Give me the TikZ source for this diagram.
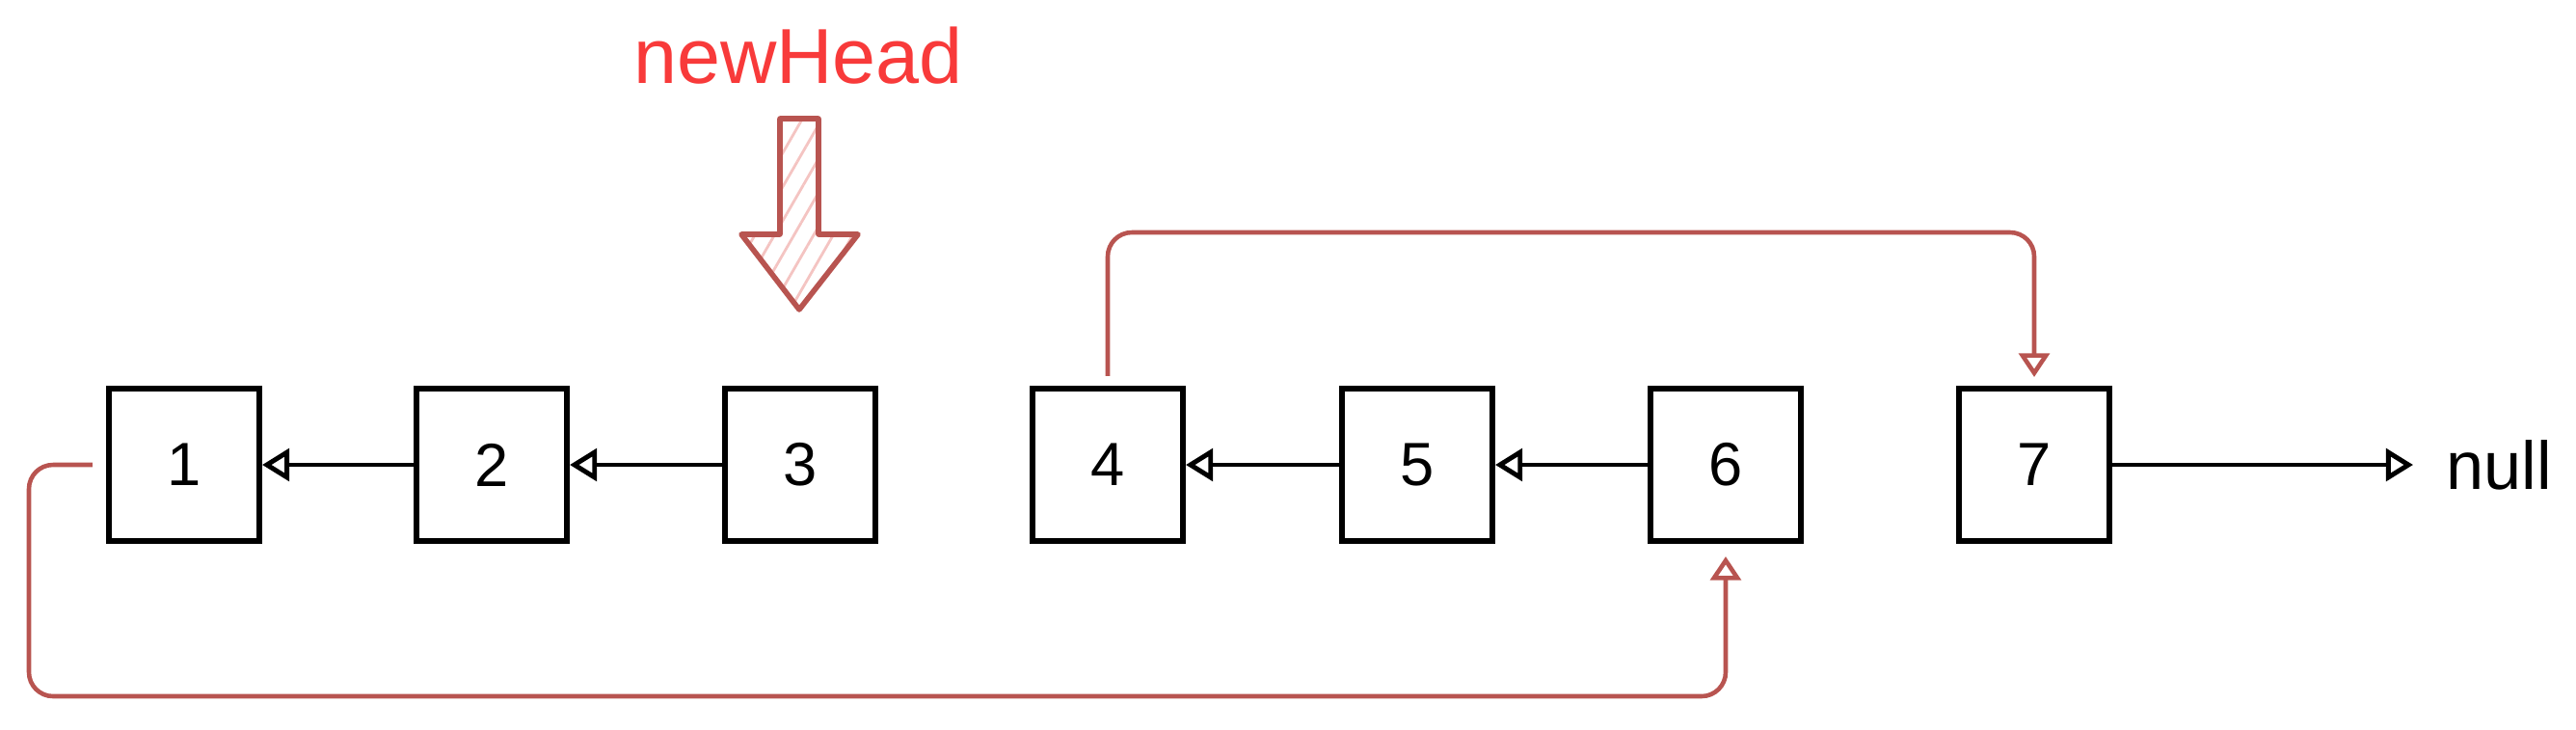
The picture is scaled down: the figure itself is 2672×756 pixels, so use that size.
\documentclass[tikz,border=0pt]{standalone}
\usepackage{fontspec}
\setmainfont{Liberation Sans}
\usetikzlibrary{arrows.meta,patterns.meta}
\definecolor{linkred}{HTML}{B85450}
\definecolor{headred}{HTML}{F83A3A}
\definecolor{hatchpink}{HTML}{F4C4C2}

\begin{document}
\begin{tikzpicture}[x=0.01cm, y=-0.01cm,
    cell/.style={draw=black, line width=1.7pt, minimum width=1.56cm,
      minimum height=1.58cm, font=\fontsize{18}{21}\selectfont},
    nextptr/.style={-{Triangle[open, length=8pt, width=9.5pt]},
      line width=1.4pt},
    relink/.style={draw=linkred, line width=1.3pt, rounded corners=0.25cm,
      -{Triangle[open, length=7pt, width=9pt]}}]

  \useasboundingbox (0, 0) rectangle (2672, 756);

  \def\rowy{482}
  \def\topy{241}
  \def\boty{722}

  % the list after the rotation
  \node [cell] (c1) at (191,  \rowy) {1};
  \node [cell] (c2) at (510,  \rowy) {2};
  \node [cell] (c3) at (830,  \rowy) {3};
  \node [cell] (c4) at (1149, \rowy) {4};
  \node [cell] (c5) at (1470, \rowy) {5};
  \node [cell] (c6) at (1790, \rowy) {6};
  \node [cell] (c7) at (2110, \rowy) {7};

  \node [anchor=west, inner sep=0pt, xshift=0.34cm,
        font=\fontsize{20}{24}\selectfont] (nul) at (2503, \rowy) {null};

  \draw [nextptr] (c2) -- (c1);
  \draw [nextptr] (c3) -- (c2);
  \draw [nextptr] (c5) -- (c4);
  \draw [nextptr] (c6) -- (c5);
  \draw [nextptr, shorten >=0.34cm] (c7) -- (nul);

  % links that close the ring
  \coordinate (topline) at (0, \topy);
  \coordinate (botline) at (30, \boty);
  \draw [relink, shorten <=0.1cm, shorten >=0.09cm]
        (c4.north) -- (c4.north |- topline) -- (c7.north |- topline)
        -- (c7.north);
  \draw [relink, shorten <=0.14cm, shorten >=0.13cm]
        (c1.west) -- (botline |- c1.west) -- (botline)
        -- (c6.south |- botline) -- (c6.south);

  % head marker
  \node [text=headred, font=\fontsize{23}{27}\selectfont] (newhead)
        at (828, 58) {newHead};
  \draw [linkred, line width=1.6pt, line join=round,
         pattern={Lines[angle=60, distance=5pt, line width=0.8pt]},
         pattern color=hatchpink]
        (809, 123) -- (849, 123) -- (849, 243) -- (890, 243)
        -- (829, 321) -- (769, 243) -- (809, 243) -- cycle;

\end{tikzpicture}
\end{document}
